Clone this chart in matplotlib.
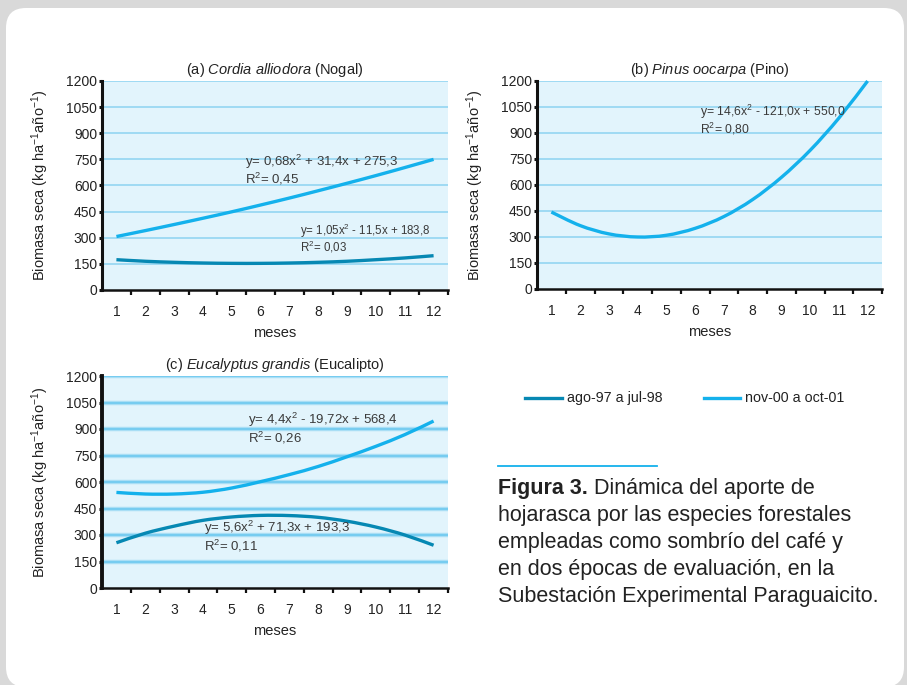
import matplotlib
matplotlib.use("Agg")
import matplotlib.pyplot as plt
from matplotlib.patches import FancyBboxPatch, PathPatch
from matplotlib.path import Path
from matplotlib.lines import Line2D

plt.rcParams["font.family"] = ["Liberation Sans", "DejaVu Sans"]
plt.rcParams["mathtext.fontset"] = "custom"
plt.rcParams["mathtext.rm"] = "Liberation Sans"
plt.rcParams["mathtext.it"] = "Liberation Sans:italic"
plt.rcParams["mathtext.bf"] = "Liberation Sans:bold"

# Months and monthly litter-fall trend values (kg ha-1 year-1)
months = [1, 2, 3, 4, 5, 6, 7, 8, 9, 10, 11, 12]
month_labels = [str(m) for m in months]
y_ticks = [0, 150, 300, 450, 600, 750, 900, 1050, 1200]

nogal_9798 = [174, 165, 159, 155, 153, 153, 155, 159, 165, 174, 184, 197]
nogal_0001 = [307, 341, 376, 412, 449, 488, 528, 570, 613, 657, 703, 750]
pino_0001 = [444, 366, 318, 300, 310, 350, 418, 516, 644, 800, 986, 1200]
euca_9798 = [256, 310, 350, 383, 402, 411, 410, 400, 378, 345, 300, 242]
euca_0001 = [541, 532, 532, 542, 566, 602, 642, 688, 743, 802, 868, 945]

period_labels = ["ago-97 a jul-98", "nov-00 a oct-01"]

DARK = "#0688b3"
LIGHT = "#14b1ec"
PLOT_BG = "#e2f4fc"
GRID = "#8dd3f1"
TXT = "#3a3a3a"

W, H = 907, 685
fig = plt.figure(figsize=(W / 100, H / 100), dpi=100, facecolor="#d9d9d9")

# white rounded card behind everything
card = FancyBboxPatch((0.06, -0.02), 8.98, 6.79,
                      boxstyle="round,pad=0,rounding_size=0.2",
                      transform=fig.dpi_scale_trans, facecolor="white",
                      edgecolor="none", zorder=-5)
fig.patches.append(card)


def px_axes(left, top, right, bottom):
    return fig.add_axes([left / W, 1 - bottom / H, (right - left) / W, (bottom - top) / H])


def smooth_line(ax, xs, ys, color, lw=2.4):
    """Draw a trend through the monthly values as a smooth Bezier path."""
    n = len(xs)
    verts = [(xs[0], ys[0])]
    codes = [Path.MOVETO]
    for i in range(n - 1):
        x0, y0 = xs[max(i - 1, 0)], ys[max(i - 1, 0)]
        x1, y1 = xs[i], ys[i]
        x2, y2 = xs[i + 1], ys[i + 1]
        x3, y3 = xs[min(i + 2, n - 1)], ys[min(i + 2, n - 1)]
        c1 = (x1 + (x2 - x0) / 6, y1 + (y2 - y0) / 6)
        c2 = (x2 - (x3 - x1) / 6, y2 - (y3 - y1) / 6)
        verts += [c1, c2, (x2, y2)]
        codes += [Path.CURVE4] * 3
    ax.add_patch(PathPatch(Path(verts, codes), facecolor="none", edgecolor=color,
                           lw=lw, capstyle="butt", zorder=3, clip_on=False))


def style_axes(ax, thick_grid=False):
    ax.set_facecolor(PLOT_BG)
    ax.set_xlim(0.5, 12.5)
    ax.set_ylim(0, 1200)
    ax.set_yticks(y_ticks)
    ax.set_yticklabels([str(v) for v in y_ticks], fontsize=10, color="#222")
    ax.set_xticks(months)
    ax.set_xticklabels(month_labels, fontsize=10, color="#222")
    ax.set_xticks([m + 0.5 for m in months], minor=True)
    ax.tick_params(axis="x", which="major", length=0, pad=11)
    ax.tick_params(axis="x", which="minor", length=3.5, width=1.6, direction="out", color="#111")
    ax.tick_params(axis="y", length=2.5, width=2.2, pad=1, color="#111")
    for s in ("top", "right"):
        ax.spines[s].set_visible(False)
    ax.spines["left"].set_linewidth(2.2 if not thick_grid else 2.8)
    ax.spines["bottom"].set_linewidth(1.8)
    ax.spines["left"].set_color("#111")
    ax.spines["bottom"].set_color("#111")
    for v in y_ticks[1:]:
        if thick_grid:
            ax.axhline(v, color="#a9def5", lw=3.2, zorder=1)
            ax.axhline(v, color="#6ec9ef", lw=1.2, zorder=1)
        else:
            ax.axhline(v, color=GRID, lw=1.1, zorder=1)
    ax.set_xlabel("meses", fontsize=10.5, labelpad=5, color="#222")
    ax.set_ylabel(r"Biomasa seca (kg ha$^{-1}$año$^{-1}$)", fontsize=10.5, color="#222",
                  labelpad=11)


def eq_text(x, y, s, size=9):
    fig.text(x / W, 1 - y / H, s, fontsize=size, color=TXT, ha="left", va="center")


# (a) Cordia alliodora
ax_a = px_axes(102, 81, 448, 290)
style_axes(ax_a)
smooth_line(ax_a, months, nogal_0001, LIGHT)
smooth_line(ax_a, months, nogal_9798, DARK)
ax_a.set_title(r"(a) $\it{Cordia\ alliodora}$ (Nogal)", fontsize=10.5, pad=5, color="#222")

# (b) Pinus oocarpa
ax_b = px_axes(537, 81, 882, 289)
style_axes(ax_b)
smooth_line(ax_b, months, pino_0001, LIGHT)
ax_b.set_title(r"(b) $\it{Pinus\ oocarpa}$ (Pino)", fontsize=10.5, pad=5, color="#222")

# (c) Eucalyptus grandis
ax_c = px_axes(102, 376, 448, 588)
style_axes(ax_c, thick_grid=True)
smooth_line(ax_c, months, euca_0001, LIGHT)
smooth_line(ax_c, months, euca_9798, DARK)
ax_c.set_title(r"(c) $\it{Eucalyptus\ grandis}$ (Eucalipto)", fontsize=10.5, pad=5, color="#222")

# fitted equations
eq_text(245, 162, r"y= 0,68x$^{2}$ + 31,4x + 275,3", 9.5)
eq_text(245, 179, r"R$^{2}$= 0,45", 9.5)
eq_text(300, 231, r"y= 1,05x$^{2}$ - 11,5x + 183,8", 8.3)
eq_text(300, 247, r"R$^{2}$= 0,03", 8.3)
eq_text(700, 112, r"y= 14,6x$^{2}$ - 121,0x + 550,0", 8.8)
eq_text(700, 129, r"R$^{2}$= 0,80", 8.8)
eq_text(248, 420, r"y= 4,4x$^{2}$ - 19,72x + 568,4", 9.5)
eq_text(248, 438, r"R$^{2}$= 0,26", 9.5)
eq_text(204, 528, r"y= 5,6x$^{2}$ + 71,3x + 193,3", 9.5)
eq_text(204, 546, r"R$^{2}$= 0,11", 9.5)

# legend
for (x0, x1, tx, col, lab) in [(525, 562, 567, DARK, period_labels[0]),
                               (704, 740, 745, LIGHT, period_labels[1])]:
    fig.add_artist(Line2D([x0 / W, x1 / W], [1 - 398 / H] * 2, color=col, lw=2.4,
                          transform=fig.transFigure))
    fig.text(tx / W, 1 - 398 / H, lab, fontsize=10.3, color="#222", ha="left", va="center")

# caption
fig.add_artist(Line2D([498 / W, 657 / W], [1 - 466 / H] * 2, color=LIGHT, lw=1.3,
                      transform=fig.transFigure))
CAP_SIZE = 15.5
renderer = fig.canvas.get_renderer()
bold = fig.text(498 / W, 1 - 494 / H, "Figura 3.", fontsize=CAP_SIZE, fontweight="bold",
                color="#222", ha="left", va="baseline")
bw = bold.get_window_extent(renderer).width
fig.text((498 + bw) / W, 1 - 494 / H, " Dinámica del aporte de", fontsize=CAP_SIZE,
         color="#222", ha="left", va="baseline")
cap_lines = [
    ("hojarasca por las especies forestales", 521),
    ("empleadas como sombrío del café y", 548),
    ("en dos épocas de evaluación, en la", 575),
    ("Subestación Experimental Paraguaicito.", 602),
]
for s, yb in cap_lines:
    fig.text(498 / W, 1 - yb / H, s, fontsize=CAP_SIZE, color="#222", ha="left", va="baseline")

fig.savefig("out.png", dpi=100, facecolor=fig.get_facecolor())
